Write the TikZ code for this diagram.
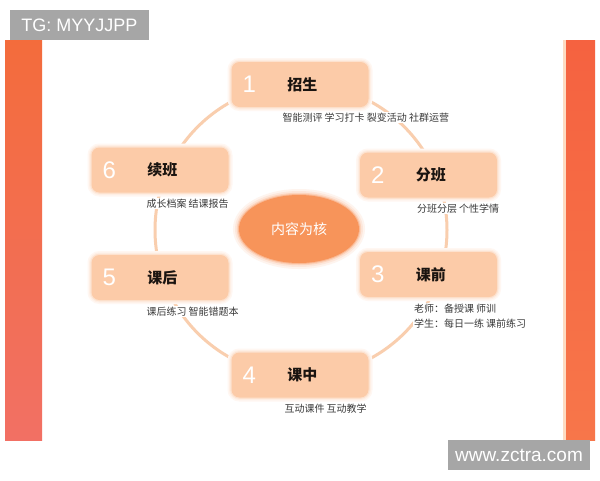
\documentclass[tikz,border=0pt]{standalone}
\usepackage{fontspec}
\setmainfont{Liberation Sans}
\newfontfamily\cjk{Noto Sans CJK SC}
\usetikzlibrary{shapes.geometric}
\definecolor{peach}{RGB}{252,203,168}
\definecolor{ringc}{RGB}{249,206,174}
\definecolor{corec}{RGB}{247,148,90}
\definecolor{greyl}{RGB}{166,166,166}
\definecolor{subc}{RGB}{58,58,58}
\definecolor{ttlc}{RGB}{26,20,16}
\definecolor{lbartop}{RGB}{243,108,60}
\definecolor{lbarbot}{RGB}{242,112,100}
\definecolor{rbartop}{RGB}{245,98,64}
\definecolor{rbarbot}{RGB}{247,118,74}
\tikzset{
  stagebox/.style={fill=peach, rounded corners=8pt, minimum width=137pt, minimum height=45pt, inner sep=0pt,
    preaction={draw=peach!15, line width=8pt},
    preaction={draw=peach!30, line width=5pt},
    preaction={draw=peach!55, line width=2.5pt}},
  numtxt/.style={text=white, font=\fontsize{24}{26}\selectfont, inner sep=0pt},
  ttltxt/.style={text=ttlc, font=\cjk\bfseries\fontsize{15}{18}\selectfont, inner sep=0pt},
  subtxt/.style={text=subc, font=\cjk\fontsize{10}{15}\selectfont, fill=white, inner sep=1pt, anchor=west, align=left},
  tagbox/.style={fill=greyl, text=white, inner sep=0pt, font=\fontsize{18}{20}\selectfont}
}
\begin{document}
\begin{tikzpicture}[x=1pt,y=-1pt]
\useasboundingbox (0,0) rectangle (600,480);
\fill[white] (0,0) rectangle (600,480);
% side bars
\shade[top color=lbartop, bottom color=lbarbot] (5,40) rectangle (42,440);
\shade[top color=rbartop, bottom color=rbarbot] (563,40) rectangle (595,440);
\fill[peach!70] (563,40) rectangle (565.5,440);
% ring
\draw[ringc, line width=3pt] (301,230) circle[radius=146];
% stage boxes
\node[stagebox] (b1) at (300,84.5) {};
\node[stagebox] (b2) at (428.5,175) {};
\node[stagebox] (b3) at (428.5,274.5) {};
\node[stagebox] (b4) at (300,375) {};
\node[stagebox] (b5) at (160,277.5) {};
\node[stagebox] (b6) at (160,170) {};
% numbers and titles
\foreach \b/\n/\t in {b1/1/招生, b2/2/分班, b3/3/课前, b4/4/课中, b5/5/课后, b6/6/续班}{
  \node[numtxt] (\b n) at ([xshift=18pt]\b.west) {\n};
  \node[ttltxt] (\b t) at ([xshift=71pt]\b.west) {\t};
}
% subtitles
\node[subtxt] (s1) at ([xshift=50pt,yshift=-10.5pt]b1.south west) {智能测评 学习打卡 裂变活动 社群运营};
\node[subtxt] (s2) at ([xshift=56pt,yshift=-11pt]b2.south west) {分班分层 个性学情};
\node[subtxt] (s3) at ([xshift=53pt,yshift=-18.5pt]b3.south west) {老师：备授课 师训\\学生：每日一练 课前练习};
\node[subtxt] (s4) at ([xshift=52pt,yshift=-11pt]b4.south west) {互动课件 互动教学};
\node[subtxt] (s5) at ([xshift=54pt,yshift=-11pt]b5.south west) {课后练习 智能错题本};
\node[subtxt] (s6) at ([xshift=54pt,yshift=-11pt]b6.south west) {成长档案 结课报告};
% core
\node[ellipse, fill=corec, minimum width=120pt, minimum height=68pt, inner sep=0pt,
  preaction={draw=corec!10, line width=12pt},
  preaction={draw=corec!22, line width=8pt},
  preaction={draw=corec!40, line width=4.5pt},
  preaction={draw=corec!65, line width=2pt},
  text=white, font=\cjk\fontsize{14}{16}\selectfont] (core) at (299,229) {内容为核};
% watermark labels
\node[tagbox, minimum width=139pt, minimum height=30pt] (tg) at (79.5,25) {TG: MYYJJPP};
\node[tagbox, minimum width=142pt, minimum height=30pt, font=\fontsize{19}{20}\selectfont] (www) at (519,455) {www.zctra.com};
\end{tikzpicture}
\end{document}
